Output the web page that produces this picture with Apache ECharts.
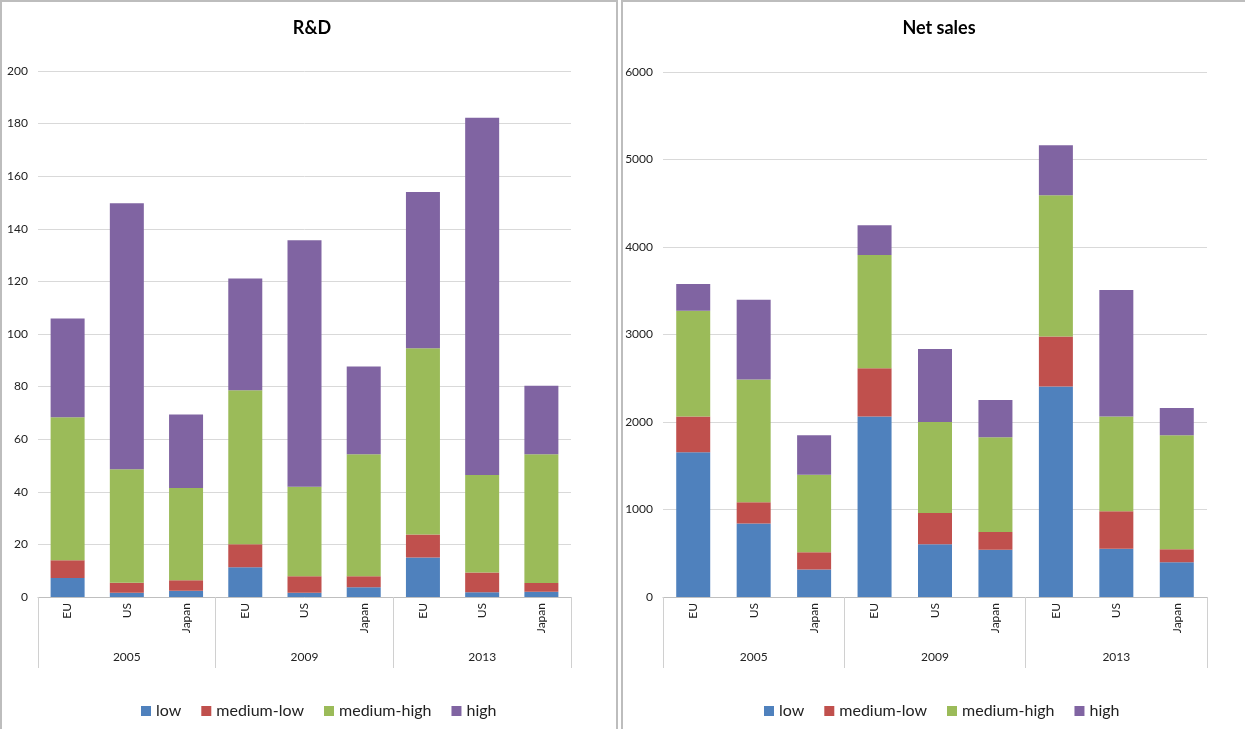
<!DOCTYPE html>
<html>
<head>
<meta charset="utf-8">
<script src="https://cdn.jsdelivr.net/npm/echarts@6/dist/echarts.min.js"></script>
<style>
  html, body { margin: 0; padding: 0; background: #fff; }
  #main { width: 1245px; height: 729px; }
</style>
</head>
<body>
<div id="main"></div>
<script>
var years = ['2005', '2009', '2013'];
var countries = ['EU', 'US', 'Japan'];
var levels = ['low', 'medium-low', 'medium-high', 'high'];
var colors = ['#4F81BD', '#C0504D', '#9BBB59', '#8064A2'];

// R&D, order: 2005 EU/US/Japan, 2009 ..., 2013 ...
var rdLow     = [7.2, 1.6, 2.4, 11.3, 1.6, 3.7, 15.0, 1.8, 2.0];
var rdMedLow  = [6.8, 3.8, 4.0, 8.8, 6.3, 4.2, 8.8, 7.5, 3.3];
var rdMedHigh = [54.3, 43.2, 35.0, 58.5, 34.0, 46.4, 70.8, 37.1, 49.0];
var rdHigh    = [37.6, 101.1, 28.0, 42.5, 93.7, 33.3, 59.4, 135.8, 26.0];

// Net sales
var nsLow     = [1654, 841, 315, 2063, 604, 539, 2406, 551, 396];
var nsMedLow  = [409, 241, 196, 551, 356, 204, 572, 429, 151];
var nsMedHigh = [1209, 1405, 886, 1295, 1041, 1083, 1613, 1083, 1303];
var nsHigh    = [306, 911, 453, 339, 834, 425, 572, 1446, 311];

var cats = [];
years.forEach(function (y) {
  countries.forEach(function (c) { cats.push(y + '|' + c); });
});

var font = 'Lato, "Open Sans", sans-serif';
var rd = [rdLow, rdMedLow, rdMedHigh, rdHigh];
var ns = [nsLow, nsMedLow, nsMedHigh, nsHigh];

function xAxes(gi) {
  return [{
    type: 'category', gridIndex: gi, data: cats, position: 'bottom',
    axisLine: { lineStyle: { color: '#bfbfbf' } },
    axisTick: { show: false },
    axisLabel: {
      rotate: 90, margin: 6, color: '#222', fontSize: 12, fontFamily: font,
      formatter: function (v) { return v.split('|')[1]; }
    }
  }, {
    type: 'category', gridIndex: gi, data: years, position: 'bottom',
    axisLine: { show: false },
    axisTick: { show: true, length: 71, lineStyle: { color: '#d0d0d0' } },
    axisLabel: { margin: 54, color: '#222', fontSize: 12, fontFamily: font }
  }];
}

function yAxis(gi, max, step) {
  return {
    type: 'value', gridIndex: gi, min: 0, max: max, interval: step,
    axisLine: { show: false }, axisTick: { show: false },
    axisLabel: {
      color: '#222', fontSize: 12, fontFamily: font, margin: 10,
      formatter: function (v) { return String(v); }
    },
    splitLine: { lineStyle: { color: '#d9d9d9' } }
  };
}

function makeSeries(vals, gi) {
  return levels.map(function (name, i) {
    return {
      name: name, type: 'bar', stack: 'g' + gi,
      xAxisIndex: gi * 2, yAxisIndex: gi,
      barWidth: 34, data: vals[i],
      itemStyle: { color: colors[i] }
    };
  });
}

var legendText = { fontFamily: font, fontSize: 16, color: '#222' };

var myChart = echarts.init(document.getElementById('main'));
var option = {
  animation: false,
  color: colors,
  title: [
    { text: 'R&D', left: 307, top: 14, textAlign: 'center',
      textStyle: { fontFamily: font, fontSize: 18, fontWeight: 'bold', color: '#000' } },
    { text: 'Net sales', left: 934, top: 14, textAlign: 'center',
      textStyle: { fontFamily: font, fontSize: 18, fontWeight: 'bold', color: '#000' } }
  ],
  legend: [
    { data: levels, left: 136, top: 698, itemWidth: 10, itemHeight: 10, itemGap: 20,
      icon: 'rect', textStyle: legendText },
    { data: levels, left: 759, top: 698, itemWidth: 10, itemHeight: 10, itemGap: 20,
      icon: 'rect', textStyle: legendText }
  ],
  grid: [
    { left: 38, right: 674, top: 71, bottom: 132 },
    { left: 663, right: 38, top: 72, bottom: 132 }
  ],
  xAxis: xAxes(0).concat(xAxes(1)),
  yAxis: [yAxis(0, 200, 20), yAxis(1, 6000, 1000)],
  series: makeSeries(rd, 0).concat(makeSeries(ns, 1)),
  graphic: [
    { type: 'polyline', shape: { points: [[1, 729], [1, 1], [617, 1], [617, 729]] },
      style: { stroke: '#bdbdbd', lineWidth: 2, fill: null } },
    { type: 'polyline', shape: { points: [[622, 729], [622, 1], [1245, 1]] },
      style: { stroke: '#bdbdbd', lineWidth: 2, fill: null } }
  ]
};
myChart.setOption(option);
</script>
</body>
</html>
